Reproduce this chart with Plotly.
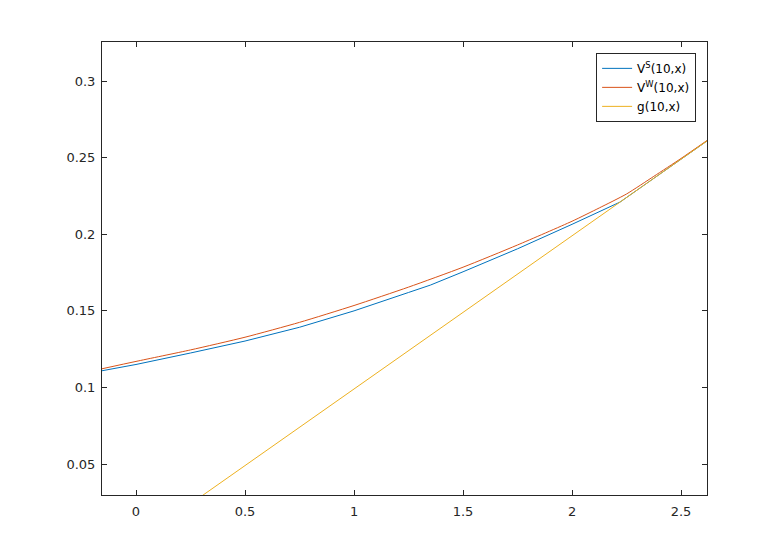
import plotly.graph_objects as go

# values
x_s = [-0.156, 0.0, 0.25, 0.5, 0.75, 1.0, 1.25, 1.35, 1.5, 1.75, 2.0, 2.22, 2.5, 2.619]
v_s = [0.1109, 0.1150, 0.1225, 0.1303, 0.1393, 0.1500, 0.1620, 0.1668, 0.1755, 0.1905, 0.2065, 0.2210, 0.2490, 0.2609]

x_w = [-0.156, 0.0, 0.25, 0.5, 0.75, 1.0, 1.25, 1.5, 1.75, 2.0, 2.125, 2.25, 2.375, 2.5, 2.619]
v_w = [0.1122, 0.1170, 0.1245, 0.1328, 0.1425, 0.1535, 0.1655, 0.1785, 0.1930, 0.2085, 0.2172, 0.2263, 0.2378, 0.2495, 0.2612]

x_g = [-0.156, 2.619]
g = [-0.0166, 0.2609]

x_ticks = [0, 0.5, 1, 1.5, 2, 2.5]
y_ticks = [0.05, 0.1, 0.15, 0.2, 0.25, 0.3]

fig = go.Figure()
fig.add_trace(go.Scatter(x=x_s, y=v_s, mode='lines', name='V<sup>S</sup>(10,x)',
                         line=dict(color='#0072BD', width=1)))
fig.add_trace(go.Scatter(x=x_w, y=v_w, mode='lines', name='V<sup>W</sup>(10,x)',
                         line=dict(color='#D95319', width=1, shape='spline', smoothing=0.6)))
fig.add_trace(go.Scatter(x=x_g, y=g, mode='lines', name='g(10,x)',
                         line=dict(color='#EDB120', width=1)))

axis_style = dict(showgrid=False, zeroline=False, showline=True, mirror='ticks',
                  linecolor='#262626', linewidth=1, ticks='inside', ticklen=5,
                  tickcolor='#262626', tickfont=dict(size=13, color='#262626'))

fig.update_xaxes(range=[-0.156, 2.619], tickvals=x_ticks, ticklabelstandoff=4, **axis_style)
fig.update_yaxes(range=[0.0298, 0.3255], tickvals=y_ticks, ticklabelstandoff=3, **axis_style)

# page body has an 8px margin, so shift the plot box back by that much
fig.update_layout(
    width=782, height=558,
    margin=dict(l=94, r=83, t=34, b=71),
    paper_bgcolor='white', plot_bgcolor='white',
    font=dict(family='DejaVu Sans', size=13, color='#262626'),
    showlegend=True,
    legend=dict(x=0.982, y=0.976, xanchor='right', yanchor='top',
                bordercolor='#262626', borderwidth=1, bgcolor='white',
                font=dict(size=12, color='black'), tracegroupgap=0),
)

fig.write_html("out.html")
